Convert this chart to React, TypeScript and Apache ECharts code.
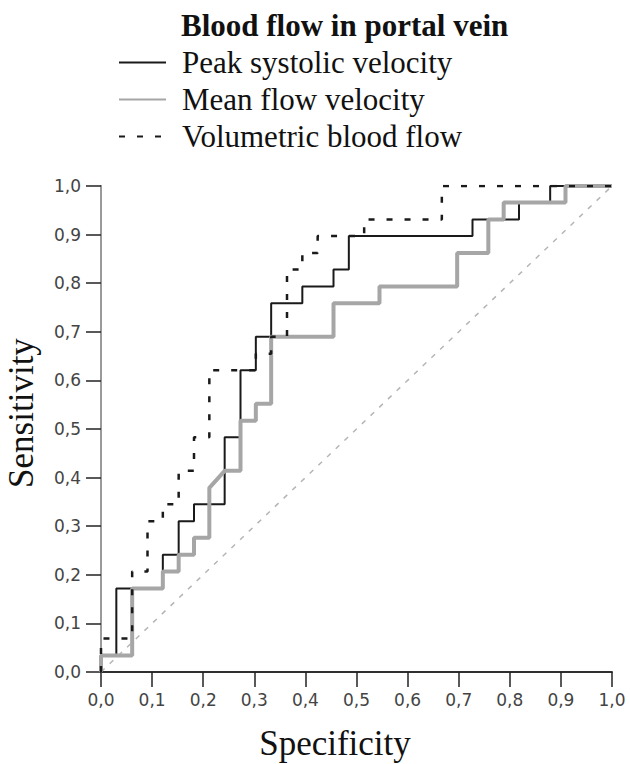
import React, { useEffect, useRef } from "react";
import * as echarts from "echarts";

const titleText = "Blood flow in portal vein";
const seriesNames = ["Peak systolic velocity", "Mean flow velocity", "Volumetric blood flow"];
const xAxisTitle = "Specificity";
const yAxisTitle = "Sensitivity";
const tickLabels = ["0,0", "0,1", "0,2", "0,3", "0,4", "0,5", "0,6", "0,7", "0,8", "0,9", "1,0"];

const peakSystolic: number[][] = [
  [0, 0], [0, 0.034], [0.03, 0.034], [0.03, 0.172], [0.121, 0.172], [0.121, 0.241],
  [0.152, 0.241], [0.152, 0.31], [0.182, 0.31], [0.182, 0.345], [0.242, 0.345],
  [0.242, 0.483], [0.273, 0.483], [0.273, 0.621], [0.303, 0.621], [0.303, 0.69],
  [0.333, 0.69], [0.333, 0.759], [0.394, 0.759], [0.394, 0.793], [0.455, 0.793],
  [0.455, 0.828], [0.485, 0.828], [0.485, 0.897], [0.727, 0.897], [0.727, 0.931],
  [0.818, 0.931], [0.818, 0.966], [0.879, 0.966], [0.879, 1], [1, 1],
];

const meanFlow: number[][] = [
  [0, 0], [0, 0.034], [0.061, 0.034], [0.061, 0.172], [0.121, 0.172], [0.121, 0.207],
  [0.152, 0.207], [0.152, 0.241], [0.182, 0.241], [0.182, 0.276], [0.212, 0.276],
  [0.212, 0.379], [0.242, 0.414], [0.273, 0.414], [0.273, 0.517], [0.303, 0.517],
  [0.303, 0.552], [0.333, 0.552], [0.333, 0.69], [0.455, 0.69], [0.455, 0.759],
  [0.545, 0.759], [0.545, 0.793], [0.697, 0.793], [0.697, 0.862], [0.758, 0.862],
  [0.758, 0.931], [0.788, 0.931], [0.788, 0.966], [0.909, 0.966], [0.909, 1], [1, 1],
];

const volumetric: number[][] = [
  [0, 0], [0, 0.069], [0.061, 0.069], [0.061, 0.207], [0.091, 0.207], [0.091, 0.31],
  [0.121, 0.31], [0.121, 0.345], [0.152, 0.345], [0.152, 0.414], [0.182, 0.414],
  [0.182, 0.483], [0.212, 0.483], [0.212, 0.621], [0.303, 0.621], [0.303, 0.655],
  [0.333, 0.655], [0.333, 0.69], [0.364, 0.69], [0.364, 0.828], [0.394, 0.828],
  [0.394, 0.862], [0.424, 0.862], [0.424, 0.897], [0.515, 0.897], [0.515, 0.931],
  [0.667, 0.931], [0.667, 1], [1, 1],
];

const reference: number[][] = [[0, 0], [1, 1]];

const SERIF = "'Liberation Serif', 'Times New Roman', serif";
const SANS = "'DejaVu Sans', Verdana, sans-serif";

export default function App() {
  const ref = useRef<HTMLDivElement>(null);

  useEffect(() => {
    if (!ref.current) return;
    const chart = echarts.init(ref.current, null, { renderer: "svg" });
    const fmt = (v: number) => tickLabels[Math.round(v * 10)] ?? "";
    const baseX = {
      type: "value" as const,
      min: 0,
      max: 1,
      interval: 0.1,
      splitLine: { show: false },
    };
    chart.setOption({
      animation: false,
      backgroundColor: "#ffffff",
      title: {
        text: titleText,
        left: 181,
        top: 10,
        padding: 0,
        textStyle: {
          fontFamily: SERIF,
          fontWeight: "bold",
          fontSize: 31,
          lineHeight: 31,
          color: "#111",
        },
      },
      legend: {
        data: seriesNames,
        orient: "vertical",
        left: 118,
        top: 44,
        padding: 0,
        itemGap: 0,
        itemWidth: 47,
        itemHeight: 14,
        selectedMode: false,
        itemStyle: { opacity: 0 },
        textStyle: {
          fontFamily: SERIF,
          fontSize: 31,
          lineHeight: 37,
          color: "#111",
          padding: [0, 0, 0, 11],
        },
      },
      grid: { left: 101, top: 186, width: 511, height: 486, containLabel: false },
      xAxis: [
        {
          ...baseX,
          position: "bottom",
          axisLine: { lineStyle: { color: "#222", width: 1.5 } },
          axisTick: { length: 15, lineStyle: { color: "#222", width: 1.5 } },
          axisLabel: { formatter: fmt, fontFamily: SANS, fontSize: 17, color: "#444", margin: 19 },
        },
        {
          ...baseX,
          position: "top",
          axisLine: { lineStyle: { color: "#222", width: 1.5 } },
          axisTick: { show: false },
          axisLabel: { show: false },
        },
      ],
      yAxis: [
        {
          ...baseX,
          position: "left",
          axisLine: { lineStyle: { color: "#222", width: 1.5 } },
          axisTick: { length: 15, lineStyle: { color: "#222", width: 1.5 } },
          axisLabel: { formatter: fmt, fontFamily: SANS, fontSize: 17, color: "#444", margin: 20 },
        },
        {
          ...baseX,
          position: "right",
          axisLine: { lineStyle: { color: "#9a9a9a", width: 2 } },
          axisTick: { show: false },
          axisLabel: { show: false },
        },
      ],
      graphic: [
        {
          type: "text",
          x: 335,
          y: 743,
          style: {
            text: xAxisTitle,
            font: `35px ${SERIF}`,
            fill: "#111",
            align: "center",
            verticalAlign: "middle",
          },
        },
        {
          type: "text",
          x: 21,
          y: 413,
          rotation: Math.PI / 2,
          style: {
            text: yAxisTitle,
            font: `35px ${SERIF}`,
            fill: "#111",
            align: "center",
            verticalAlign: "middle",
          },
        },
      ],
      series: [
        {
          name: "reference",
          type: "line",
          data: reference,
          xAxisIndex: 0,
          yAxisIndex: 0,
          symbol: "none",
          silent: true,
          lineStyle: { color: "#b5b5b5", width: 1.5, type: [5, 7] },
          z: 1,
        },
        {
          name: seriesNames[0],
          type: "line",
          data: peakSystolic,
          xAxisIndex: 0,
          yAxisIndex: 0,
          symbol: "none",
          color: "#1a1a1a",
          lineStyle: { color: "#1a1a1a", width: 2 },
          z: 2,
        },
        {
          name: seriesNames[1],
          type: "line",
          data: meanFlow,
          xAxisIndex: 0,
          yAxisIndex: 0,
          symbol: "none",
          color: "#a6a6a6",
          lineStyle: { color: "#a6a6a6", width: 4 },
          z: 3,
        },
        {
          name: seriesNames[2],
          type: "line",
          data: volumetric,
          xAxisIndex: 0,
          yAxisIndex: 0,
          symbol: "none",
          color: "#1a1a1a",
          lineStyle: { color: "#1a1a1a", width: 2.5, type: [6, 12] },
          z: 4,
        },
      ],
    });
    return () => chart.dispose();
  }, []);

  return (
    <div
      ref={ref}
      style={{ position: "absolute", left: 0, top: 0, width: 630, height: 764, background: "#fff" }}
    />
  );
}
